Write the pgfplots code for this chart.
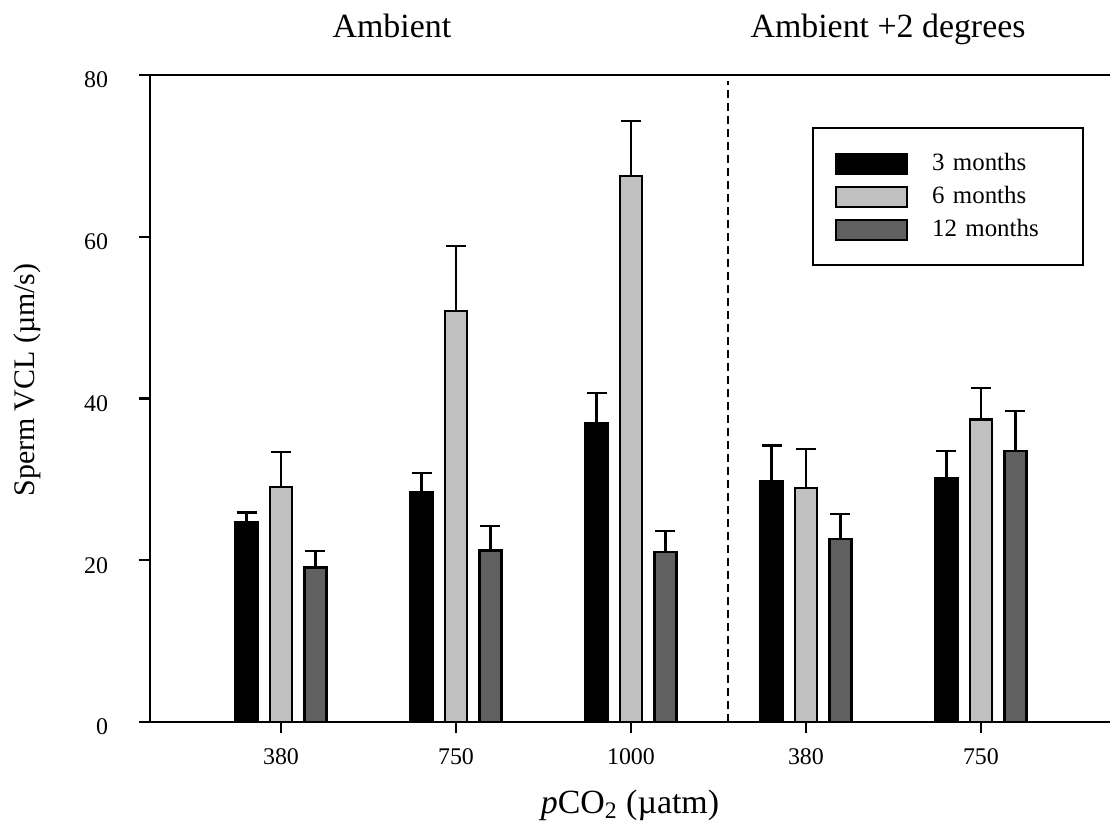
\documentclass[border=0pt]{standalone}
\usepackage{pgfplots}
\pgfplotsset{compat=1.18}
\usepackage{pgfplotstable}
\usepackage{fontspec}
\setmainfont{Liberation Serif}
\definecolor{lgray}{HTML}{C0C0C0}
\definecolor{dgray}{HTML}{606060}

% x positions: group centre -0.197 (3 months), 0 (6 months), +0.197 (12 months)
\pgfplotstableread{
xa     xb  xc     t3   e3  t6   e6  t12  e12
-0.197 0   0.197  24.7 1.2 29.1 4.3 19.1 2.0
0.803  1   1.197  28.4 2.4 50.8 8.1 21.2 3.0
1.803  2   2.197  37.0 3.7 67.5 6.8 21.0 2.6
2.803  3   3.197  29.8 4.4 28.9 4.9 22.6 3.1
3.803  4   4.197  30.1 3.4 37.4 3.9 33.5 5.0
}\data

\pgfplotsset{
  swatch/.style={legend image code/.code={%
    \draw[##1, line width=1.1bp] (0bp,-5bp) rectangle (35.5bp,5bp);
    \path[draw=none, fill=none] (0bp,-8.25bp) rectangle (48bp,8.25bp);}},
  mybar/.style={ybar, bar width=0.126, bar shift=0, draw=black, line width=1.1bp,
    error bars/y dir=plus, error bars/y explicit,
    error bars/error bar style={line width=1.1bp, black, solid},
    error bars/error mark options={rotate=90, line width=1.1bp, mark size=5bp, black, solid}},
}

\begin{document}
\begin{tikzpicture}
\begin{axis}[
  scale only axis, width=482.5bp, height=323.5bp,
  xmin=-0.7486, xmax=4.766, ymin=0, ymax=80,
  clip=false,
  axis line style={line width=1.1bp, black},
  xtick={0,1,2,3,4}, xticklabels={380,750,1000,380,750},
  ytick={0,20,40,60,80},
  tick align=outside, xtick pos=left, ytick pos=left,
  major tick length=5.5bp,
  tick style={line width=1.1bp, black},
  /pgf/number format/assume math mode=true,
  ticklabel style={font=\fontsize{12}{14}\selectfont},
  yticklabel style={xshift=-12bp, yshift=-2.5bp},
  xticklabel style={yshift=-4.5bp},
  xlabel={\textit{p}CO\textsubscript{2} (µatm)},
  xlabel style={font=\fontsize{17}{20}\selectfont, at={(axis description cs:0.4974,0)}, anchor=base, yshift=-45.5bp},
  ylabel={Sperm VCL (µm/s)},
  ylabel style={font=\fontsize{15}{18}\selectfont, at={(axis description cs:-0.1275,0.5286)}, anchor=center},
  legend style={at={(axis description cs:0.686,0.9196)}, anchor=north west,
    draw=black, line width=1.1bp, inner xsep=11bp, inner ysep=9.5bp, row sep=0pt,
    font=\fontsize{12.5}{14}\selectfont,
    nodes={inner sep=0pt, text width=64.5bp, align=left}},
  legend cell align=left,
]
\addplot[mybar, fill=black, swatch] table[x=xa, y=t3, y error=e3] {\data};
\addplot[mybar, fill=lgray, swatch] table[x=xb, y=t6, y error=e6] {\data};
\addplot[mybar, fill=dgray, swatch] table[x=xc, y=t12, y error=e12] {\data};
\legend{3 months, 6 months, 12 months}
\draw[line width=0.8bp, dash pattern=on 4bp off 2.5bp] (axis cs:2.554,0) -- (axis cs:2.554,79.2);
\node[anchor=base, font=\fontsize{17}{20}\selectfont] at (axis cs:0.634,84.6) {Ambient};
\node[anchor=base, font=\fontsize{17}{20}\selectfont] at (axis cs:3.469,84.6) {Ambient +2 degrees};
\end{axis}
\pgfresetboundingbox
\useasboundingbox (-75bp,-50.5bp) rectangle (480bp,361bp);
\end{tikzpicture}
\end{document}
